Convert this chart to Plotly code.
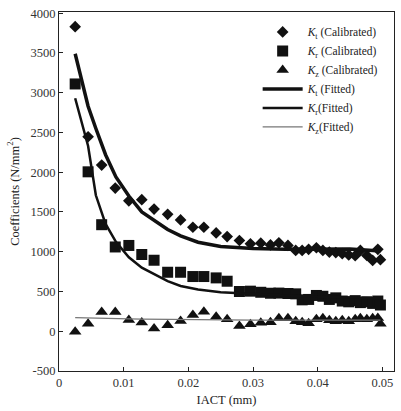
import plotly.graph_objects as go

# IACT values (mm) for the calibrated points
iact = [0.0025, 0.0045, 0.0066, 0.0087, 0.0108, 0.0128, 0.0147, 0.0168, 0.0188,
        0.0207, 0.0224, 0.0243, 0.0260, 0.0279, 0.0296, 0.0312, 0.0327, 0.0340,
        0.0354, 0.0366, 0.0376, 0.0386, 0.0398, 0.0408, 0.0418, 0.0428, 0.0438,
        0.0448, 0.0458, 0.0466, 0.0476, 0.0485, 0.0493, 0.0497]

kt_cal = [3830, 2446, 2090, 1800, 1640, 1655, 1537, 1470, 1400,
          1308, 1308, 1237, 1190, 1141, 1100, 1108, 1085, 1112,
          1079, 1016, 1016, 1030, 1050, 1016, 996, 990, 975,
          960, 950, 1016, 954, 891, 1030, 900]

kr_cal = [3110, 2005, 1340, 1060, 1079, 965, 893, 742, 742,
          688, 688, 671, 629, 500, 504, 490, 478, 480,
          475, 470, 395, 400, 450, 440, 400, 420, 380,
          370, 385, 360, 370, 350, 380, 330]

kz_cal = [-5, 95, 243, 243, 142, 110, 35, 75, 129,
          204, 246, 183, 150, 67, 87, 108, 112, 162,
          162, 125, 112, 100, 150, 162, 137, 125, 137,
          125, 150, 162, 150, 162, 165, 95]

# fitted curves
iact_fit = [0.0025, 0.0045, 0.0057, 0.0072, 0.0088, 0.0108, 0.0128, 0.0147,
            0.0168, 0.0188, 0.0215, 0.025, 0.030, 0.035, 0.040, 0.045, 0.0497]
kt_fit = [3490, 2830, 2550, 2220, 1940, 1700, 1500, 1400,
          1280, 1200, 1120, 1065, 1040, 1030, 1035, 1035, 1010]
kr_fit = [2930, 2330, 1710, 1350, 1125, 930, 800, 715,
          630, 570, 525, 490, 468, 450, 435, 425, 415]
kz_fit = [172, 170, 168, 163, 158, 155, 152, 150,
          147, 145, 143, 142, 140, 140, 140, 140, 140]

x_ticks = [0, 0.01, 0.02, 0.03, 0.04, 0.05]
x_labels = ['0', '0.01', '0.02', '0.03', '0.04', '0.05']
y_ticks = [-500, 0, 500, 1000, 1500, 2000, 2500, 3000, 3500, 4000]
y_labels = ['-500', '0', '500', '1000', '1500', '2000', '2500', '3000', '3500', '4000']

FONT = 'Liberation Serif'

fig = go.Figure()

fig.add_trace(go.Scatter(x=iact, y=kt_cal, mode='markers',
                         name='<i>K</i><sub>t</sub> (Calibrated)',
                         marker=dict(symbol='diamond', size=9, color='#111')))
fig.add_trace(go.Scatter(x=iact, y=kr_cal, mode='markers',
                         name='<i>K</i><sub>r</sub> (Calibrated)',
                         marker=dict(symbol='square', size=11, color='#111')))
fig.add_trace(go.Scatter(x=iact, y=kz_cal, mode='markers',
                         name='<i>K</i><sub>z</sub> (Calibrated)',
                         marker=dict(symbol='triangle-up', size=11, color='#111')))
fig.add_trace(go.Scatter(x=iact_fit, y=kt_fit, mode='lines',
                         name='<i>K</i><sub>t</sub> (Fitted)',
                         line=dict(color='#111', width=3.5)))
fig.add_trace(go.Scatter(x=iact_fit, y=kr_fit, mode='lines',
                         name='<i>K</i><sub>r</sub>(Fitted)',
                         line=dict(color='#111', width=2.5)))
fig.add_trace(go.Scatter(x=iact_fit, y=kz_fit, mode='lines',
                         name='<i>K</i><sub>z</sub>(Fitted)',
                         line=dict(color='#777', width=1.2)))

fig.update_layout(
    width=401, height=411,
    margin=dict(l=59, r=6, t=12, b=37),
    paper_bgcolor='white', plot_bgcolor='white',
    font=dict(family=FONT, size=12, color='#222'),
    showlegend=True,
    legend=dict(x=0.593, y=0.985, xanchor='left', yanchor='top',
                bgcolor='rgba(0,0,0,0)', font=dict(family=FONT, size=11.5, color='#222'),
                tracegroupgap=0, itemwidth=40),
    xaxis=dict(range=[0, 0.0518], tickvals=x_ticks, ticktext=x_labels,
               showline=True, linecolor='#222', linewidth=1, mirror=True,
               ticks='inside', ticklen=4, tickcolor='#222',
               showgrid=False, zeroline=False,
               title=dict(text='IACT (mm)', standoff=6,
                          font=dict(family=FONT, size=12.5, color='#222')),
               tickfont=dict(family=FONT, size=12.5, color='#333')),
    yaxis=dict(range=[-500, 4015], tickvals=y_ticks, ticktext=y_labels,
               showline=True, linecolor='#222', linewidth=1, mirror=True,
               ticks='inside', ticklen=4, tickcolor='#222',
               showgrid=False, zeroline=False,
               title=dict(text='Coefficients (N/mm<sup>2</sup>)', standoff=8,
                          font=dict(family=FONT, size=12.5, color='#222')),
               tickfont=dict(family=FONT, size=12.5, color='#333')),
)

# page body has a default margin; drop it so the figure sits at the corner
fig.write_html('out.html', config={'displayModeBar': False},
               post_script="document.body.style.margin='0';")
